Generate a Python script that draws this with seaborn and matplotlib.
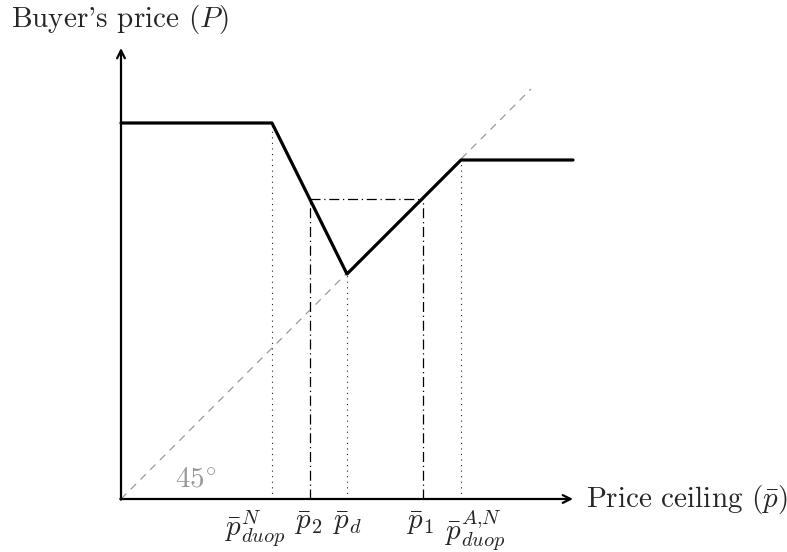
import matplotlib
matplotlib.use("Agg")
import matplotlib.pyplot as plt
import matplotlib.transforms as mtransforms
import seaborn as sns
import pandas as pd

sns.set_theme(style="white")
plt.rcParams["font.family"] = ["cmr10", "DejaVu Serif"]
plt.rcParams["mathtext.fontset"] = "cm"
plt.rcParams["axes.unicode_minus"] = False

# Key thresholds on the price-ceiling axis
p_duop_N = 151
p2 = 189
pd_ = 226
p1 = 302
p_duop_AN = 340
x_end = 452

# Buyer's price levels
P_high = 376
P_low = 225
P_mid = 300
P_flat = 339

curve_x = [0, p_duop_N, pd_, p_duop_AN, x_end]
curve_y = [P_high, P_high, P_low, P_flat, P_flat]

diag_end = 410
x_axis_end = 452
y_axis_end = 451

tick_pos = [p_duop_N, p2, pd_, p1, p_duop_AN]
tick_labels = [r"$\bar{p}^{N}_{duop}$", r"$\bar{p}_2$", r"$\bar{p}_d$",
               r"$\bar{p}_1$", r"$\bar{p}^{A{,}N}_{duop}$"]
tick_shift_px = [-17, -2, 0, -3, 14]

fig = plt.figure(figsize=(7.87, 5.52), dpi=100)
ax = fig.add_axes([0, 0, 1, 1])
ax.set_xlim(-121, 666)
ax.set_ylim(-53, 499)
ax.axis("off")

# 45 degree line
ax.plot([0, diag_end], [0, diag_end], color="#999999", lw=0.9,
        dashes=(6, 5))
ax.text(54, 19, r"$45^{\circ}$", color="#999999", fontsize=21,
        ha="left", va="center")

# dotted verticals
for xv, yv in [(p_duop_N, P_high), (pd_, P_low), (p_duop_AN, P_flat)]:
    ax.plot([xv, xv], [0, yv], color="#222222", lw=0.8, ls=(0, (1, 4)))

# dash-dot lines
for xv in [p2, p1]:
    ax.plot([xv, xv], [0, P_mid], color="black", lw=0.9,
            ls=(0, (8, 3, 1, 3)))
ax.plot([p2, p1], [P_mid, P_mid], color="black", lw=0.9,
        ls=(0, (8, 3, 1, 3)))

# main curve
df = pd.DataFrame({"x": curve_x, "y": curve_y})
sns.lineplot(data=df, x="x", y="y", ax=ax, color="black", lw=2.3,
             sort=False, estimator=None)
ax.axis("off")

# axes arrows
ax.annotate("", xy=(x_axis_end, 0), xytext=(-0.7, 0),
            arrowprops=dict(arrowstyle="->", lw=1.6, color="black",
                            shrinkA=0, shrinkB=0, mutation_scale=14))
ax.annotate("", xy=(0, y_axis_end), xytext=(0, -0.7),
            arrowprops=dict(arrowstyle="->", lw=1.6, color="black",
                            shrinkA=0, shrinkB=0, mutation_scale=14))

ax.text(465, 0, r"Price ceiling ($\bar{p}$)", fontsize=21, ha="left",
        va="center")
ax.text(-1, 479, r"Buyer's price ($P$)", fontsize=21, ha="center",
        va="center")

for xp, lab, sh in zip(tick_pos, tick_labels, tick_shift_px):
    tr = ax.transData + mtransforms.ScaledTranslation(sh / 100, 0,
                                                      fig.dpi_scale_trans)
    ax.text(xp, -10, lab, fontsize=21, ha="center", va="top", transform=tr)

fig.savefig("out.png", dpi=100)
